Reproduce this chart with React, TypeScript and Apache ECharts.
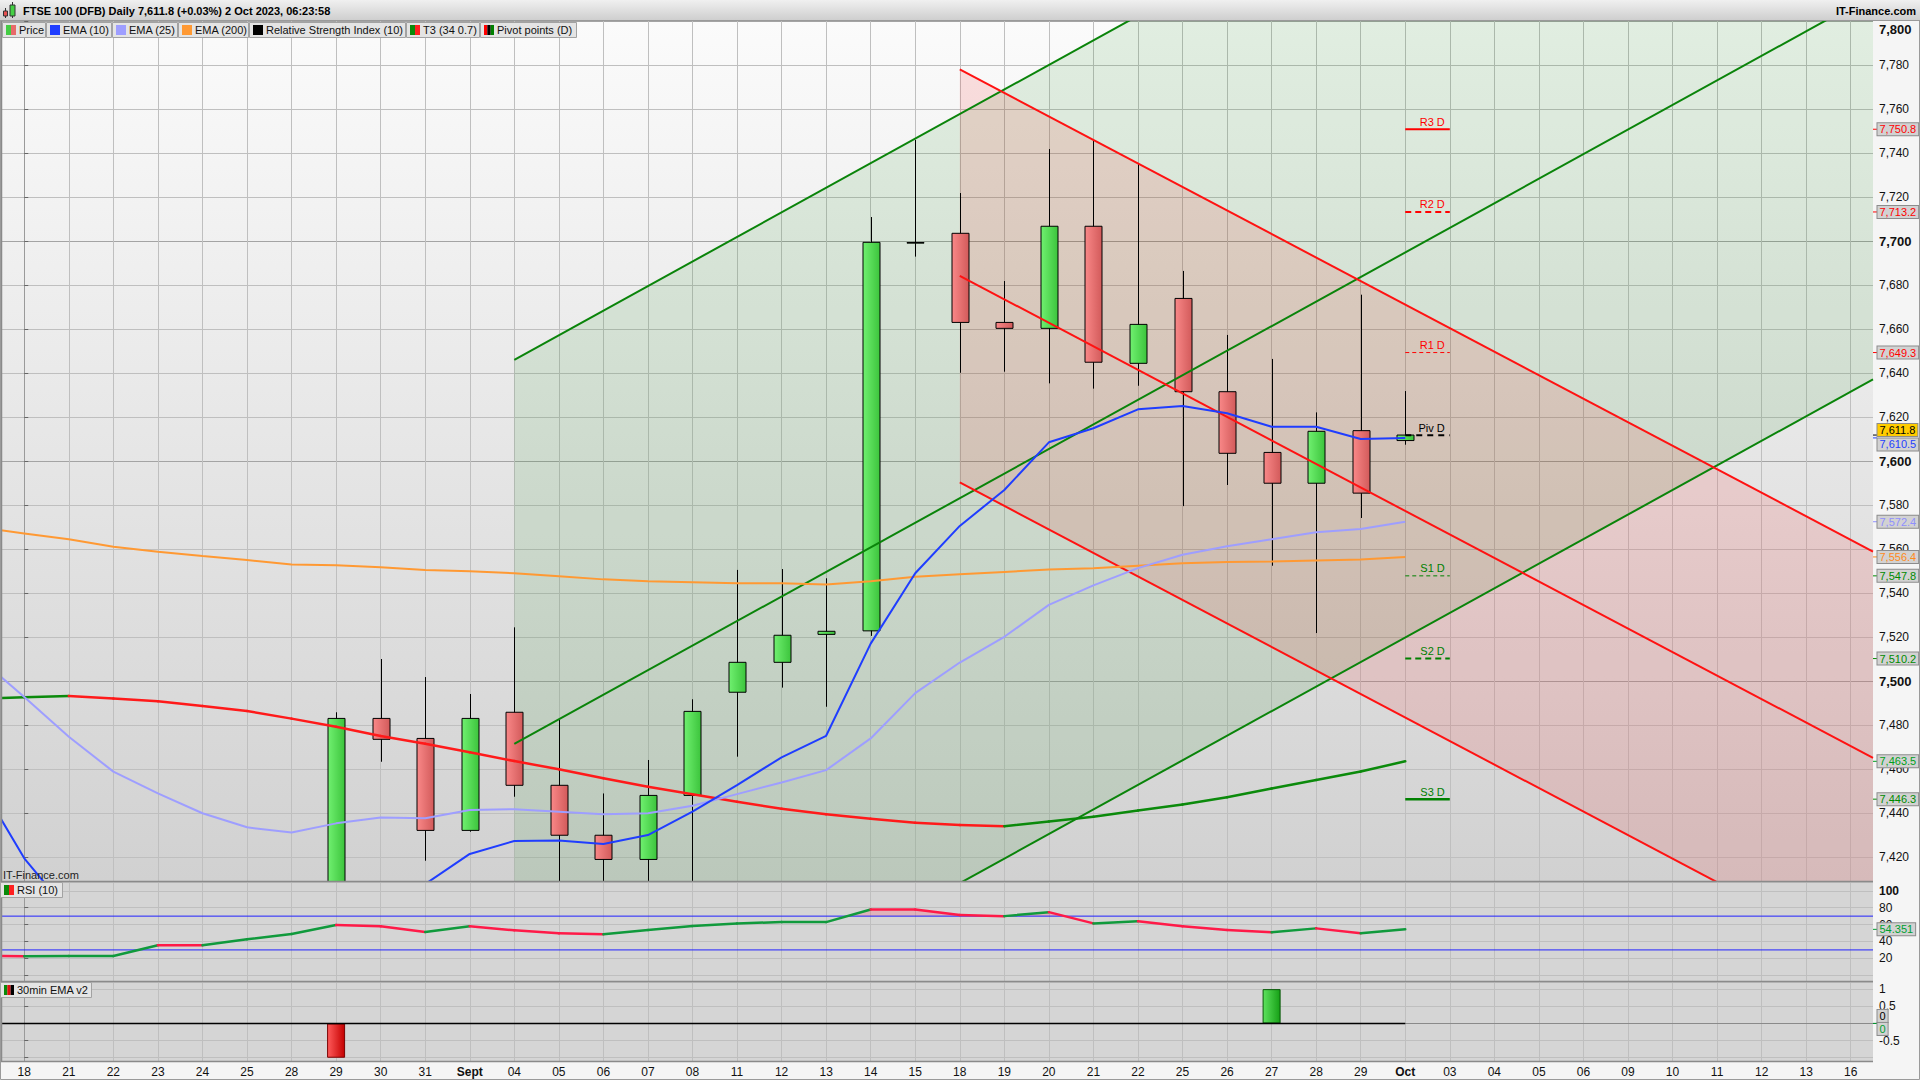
import React, { useEffect, useRef } from 'react';
import * as echarts from 'echarts';

const FONT = '"Liberation Sans", Arial, Helvetica, sans-serif';

// ---------------- data ----------------
const categories = [
  '2023-08-18', '2023-08-21', '2023-08-22', '2023-08-23', '2023-08-24', '2023-08-25', '2023-08-28', '2023-08-29', '2023-08-30', '2023-08-31',
  '2023-09-01', '2023-09-04', '2023-09-05', '2023-09-06', '2023-09-07', '2023-09-08', '2023-09-11', '2023-09-12', '2023-09-13', '2023-09-14', '2023-09-15',
  '2023-09-18', '2023-09-19', '2023-09-20', '2023-09-21', '2023-09-22', '2023-09-25', '2023-09-26', '2023-09-27', '2023-09-28', '2023-09-29',
  '2023-10-02', '2023-10-03', '2023-10-04', '2023-10-05', '2023-10-06', '2023-10-09', '2023-10-10', '2023-10-11', '2023-10-12', '2023-10-13', '2023-10-16',
];
const tickLabels = [
  '18', '21', '22', '23', '24', '25', '28', '29', '30', '31',
  'Sept', '04', '05', '06', '07', '08', '11', '12', '13', '14', '15',
  '18', '19', '20', '21', '22', '25', '26', '27', '28', '29',
  'Oct', '03', '04', '05', '06', '09', '10', '11', '12', '13', '16',
];
const boldTickLabels = ['Sept', 'Oct'];

// daily candles from 29 Aug (category index 7): [open, high, low, close]
const candleStart = 7;
const candles = [
  [7338.0, 7485.8, 7330.0, 7483.0],
  [7483.0, 7510.0, 7463.3, 7473.5],
  [7473.9, 7501.8, 7418.3, 7432.1],
  [7432.1, 7494.1, 7431.5, 7483.0],
  [7485.8, 7524.4, 7447.4, 7452.6],
  [7452.6, 7482.3, 7405.0, 7429.9],
  [7429.9, 7448.9, 7404.0, 7418.9],
  [7418.9, 7464.1, 7402.0, 7448.0],
  [7448.0, 7491.7, 7400.0, 7486.2],
  [7494.9, 7550.5, 7465.6, 7508.5],
  [7508.5, 7550.9, 7497.0, 7520.8],
  [7521.2, 7546.7, 7488.3, 7522.6],
  [7522.8, 7710.9, 7520.5, 7699.4],
  [7699.3, 7745.9, 7692.9, 7699.3],
  [7703.5, 7721.8, 7640.1, 7663.0],
  [7663.0, 7681.8, 7640.6, 7660.3],
  [7660.3, 7741.8, 7635.3, 7706.7],
  [7706.7, 7745.9, 7632.9, 7644.9],
  [7644.4, 7735.3, 7634.2, 7662.1],
  [7673.9, 7686.4, 7579.5, 7631.5],
  [7631.5, 7657.3, 7589.1, 7603.5],
  [7603.9, 7646.4, 7552.4, 7589.9],
  [7589.9, 7622.1, 7521.8, 7613.5],
  [7613.8, 7675.6, 7574.1, 7585.4],
  [7609.3, 7631.8, 7607.4, 7611.8],
];

// indicator values start one session before the first category (index -1)
const indicatorStart = -1;
const ema10 = [7453.6, 7419.4, 7395.0, 7388.0, 7385.0, 7384.0, 7383.0, 7382.0, 7392.0, 7400.0, 7407.7, 7421.4, 7427.3, 7427.5, 7425.9, 7430.0, 7440.6, 7452.7, 7465.3, 7475.1, 7517.0, 7549.0, 7570.5, 7586.8, 7608.5, 7614.9, 7623.5, 7625.0, 7621.7, 7615.6, 7615.6, 7610.0, 7610.5];
const ema25 = [7510.3, 7492.7, 7474.7, 7458.8, 7448.9, 7439.9, 7433.5, 7431.1, 7435.3, 7438.0, 7437.6, 7441.4, 7441.7, 7440.6, 7439.4, 7439.9, 7443.3, 7448.6, 7453.9, 7459.5, 7473.9, 7494.5, 7508.4, 7520.1, 7534.6, 7543.5, 7551.3, 7557.4, 7561.3, 7564.4, 7567.6, 7569.1, 7572.4];
const ema200 = [7569.8, 7567.1, 7564.4, 7561.0, 7558.8, 7556.8, 7555.0, 7553.0, 7552.6, 7551.7, 7550.5, 7549.9, 7549.0, 7547.6, 7546.2, 7545.3, 7544.9, 7544.4, 7544.4, 7543.9, 7545.3, 7547.4, 7548.5, 7549.6, 7550.7, 7551.3, 7552.4, 7553.5, 7554.1, 7554.3, 7554.8, 7555.2, 7556.4];
const t3 = [7492.0, 7492.6, 7493.2, 7492.0, 7490.8, 7488.6, 7486.4, 7482.9, 7479.2, 7475.0, 7471.5, 7467.6, 7463.6, 7459.9, 7455.8, 7451.9, 7448.5, 7445.1, 7441.9, 7439.4, 7437.4, 7435.6, 7434.5, 7434.0, 7436.1, 7438.3, 7441.1, 7443.9, 7447.2, 7451.1, 7455.0, 7458.9, 7463.5];
const rsi10 = [22.9, 22.6, 22.65, 22.7, 35.5, 35.4, 42.6, 48.8, 59.4, 57.9, 51.2, 57.9, 53.2, 49.6, 48.5, 53.5, 58.2, 61.4, 62.9, 62.95, 77.9, 77.8, 71.2, 70.0, 74.7, 61.4, 63.8, 57.9, 53.5, 50.8, 55.5, 49.6, 54.351];
const rsiLevels = [70, 30];

// 30min EMA v2 signal, one value per category up to 2 Oct
const emaSignal = [0, 0, 0, 0, 0, 0, 0, -1, 0, 0, 0, 0, 0, 0, 0, 0, 0, 0, 0, 0, 0, 0, 0, 0, 0, 0, 0, 0, 1, 0, 0, 0];

// daily pivot points for 2 Oct
const pivotIndex = 31;
const pivotNames = ['R3 D', 'R2 D', 'R1 D', 'Piv D', 'S1 D', 'S2 D', 'S3 D'];
const pivotLevels = [7750.8, 7713.2, 7649.3, 7611.7, 7547.8, 7510.2, 7446.3];

// trend channels: start index, level of each line at the start, slope per session
const greenChannelStart = 11;
const greenChannelLevels = [7646.0, 7471.4, 7296.4];
const greenChannelSlope = 11.17;
const redChannelStart = 21;
const redChannelLevels = [7778.0, 7684.2, 7590.3];
const redChannelSlope = -10.69;

// axes
const priceAxisRange = [7409.1, 7800];
const priceStep = 20;
const rsiAxisRange = [-6.8, 110.4];
const rsiTickLabels = [100, 80, 60, 40, 20];
const sigAxisRange = [-1.095, 1.208];
const sigTickLabels = [1, 0.5, -0.5];

// ---------------- styles / layout ----------------
const PL = 2;
const PW = 1871;
const MAIN_T = 21;
const MAIN_H = 860;
const RSI_T = 882;
const RSI_H = 99;
const SIG_T = 982;
const SIG_H = 79;
const N = categories.length;
const X_MIN = -0.5;
const X_MAX = N - 0.5;
const BAND = PW / N;

const C_EMA10 = '#1f3dff';
const C_EMA25 = '#9e9eff';
const C_EMA200 = '#ff9933';
const C_UP = '#0b8a0b';
const C_DN = '#ff1a1a';
const C_RSI_UP = '#109a3c';
const C_RSI_DN = '#ff1a48';
const TAG_BG = '#d2d2d2';
const GRID_LIGHT = '#bfbfbf';
const GRID_DARK = '#a4a4a4';

const lin = (a: string, b: string, horizontal = true) =>
  new echarts.graphic.LinearGradient(0, 0, horizontal ? 1 : 0, horizontal ? 0 : 1, [
    { offset: 0, color: a },
    { offset: 1, color: b },
  ]);

const fmt1 = (v: number) => v.toLocaleString('en-US', { minimumFractionDigits: 1, maximumFractionDigits: 1 });
const last = (a: number[]) => a[a.length - 1];
const lastClose = last(candles)[3];

const mainTagValues = [pivotLevels[0], pivotLevels[1], pivotLevels[2], lastClose, last(ema10), last(ema25), last(ema200), pivotLevels[4], pivotLevels[5], last(t3), pivotLevels[6]];
const mainTagColors = ['#ff0000', '#ff0000', '#ff0000', '#000000', '#2340ff', '#8f8fff', '#ff8a1a', '#008a00', '#008a00', '#00a020', '#008a00'];
const mainTagBgs = [TAG_BG, TAG_BG, TAG_BG, '#ffcc00', TAG_BG, TAG_BG, TAG_BG, TAG_BG, TAG_BG, TAG_BG, TAG_BG];
const mainTagNudge = [0, 0, 0, -5, 6.5, 0, 0, 0, 0, 0, 0];

const pivotColors = ['#ff0000', '#ff0000', '#ff0000', '#000000', '#008000', '#008000', '#008000'];
const pivotWidths = [2, 2, 1, 2, 1, 2, 2.5];
const pivotDash: (number[] | null)[] = [null, [6, 4], [4, 3], [6, 5], [4, 3], [6, 4], null];

function segments(vals: number[], start: number) {
  const out: number[][] = [];
  for (let k = 1; k < vals.length; k++) out.push([start + k - 1, vals[k - 1], start + k, vals[k]]);
  return out;
}

function lineSeries(vals: number[], color: string, width: number, xi: number, yi: number, z = 3) {
  return {
    type: 'line',
    xAxisIndex: xi,
    yAxisIndex: yi,
    z,
    silent: true,
    symbol: 'none',
    showSymbol: false,
    clip: true,
    data: vals.map((v, k) => [indicatorStart + k, v]),
    lineStyle: { color, width },
  };
}

function channelLine(start: number, level: number, slope: number, color: string) {
  return {
    type: 'line',
    xAxisIndex: 0,
    yAxisIndex: 0,
    z: 3,
    silent: true,
    symbol: 'none',
    clip: true,
    data: [
      [start, level],
      [X_MAX, level + slope * (X_MAX - start)],
    ],
    lineStyle: { color, width: 2 },
  };
}

function segmentSeries(vals: number[], xi: number, yi: number, up: string, dn: string, width: number) {
  return {
    type: 'custom',
    xAxisIndex: xi,
    yAxisIndex: yi,
    z: 3,
    silent: true,
    clip: true,
    data: segments(vals, indicatorStart),
    renderItem: (_p: any, api: any) => {
      const a = api.coord([api.value(0), api.value(1)]);
      const b = api.coord([api.value(2), api.value(3)]);
      const rising = api.value(3) >= api.value(1);
      return {
        type: 'line',
        shape: { x1: a[0], y1: a[1], x2: b[0], y2: b[1] },
        style: { stroke: rising ? up : dn, lineWidth: width, lineCap: 'round' },
      };
    },
  };
}

function tagSeries(values: number[], texts: string[], colors: string[], bgs: string[], nudges: number[], xi: number, yi: number) {
  return {
    type: 'custom',
    xAxisIndex: xi,
    yAxisIndex: yi,
    z: 20,
    silent: true,
    clip: false,
    data: values.map((v) => [v]),
    renderItem: (p: any, api: any) => {
      const k = p.dataIndex;
      const pt = api.coord([X_MAX, api.value(0)]);
      return {
        type: 'group',
        children: [
          { type: 'line', shape: { x1: pt[0], y1: pt[1], x2: pt[0] + 4, y2: pt[1] }, style: { stroke: colors[k], lineWidth: 1 } },
          {
            type: 'text',
            x: pt[0] + 4.5,
            y: pt[1] + nudges[k],
            style: {
              text: texts[k],
              fill: colors[k],
              fontSize: 11,
              fontFamily: FONT,
              align: 'left',
              verticalAlign: 'middle',
              backgroundColor: bgs[k],
              borderColor: '#8c8c8c',
              borderWidth: 1,
              padding: [1, 2, 0, 2],
            },
          },
        ],
      };
    },
  };
}

function buildOption() {
  const greenBody = lin('#70f070', '#3cc43c');
  const redBody = lin('#f98888', '#d25a5a');

  const series: any[] = [];

  // channel shading
  series.push({
    type: 'custom',
    xAxisIndex: 0,
    yAxisIndex: 0,
    z: 1,
    silent: true,
    clip: true,
    data: [
      [greenChannelStart, X_MAX, greenChannelLevels[0], greenChannelLevels[2], greenChannelSlope],
      [redChannelStart, X_MAX, redChannelLevels[0], redChannelLevels[2], redChannelSlope],
    ],
    renderItem: (p: any, api: any) => {
      const s = api.value(0);
      const e = api.value(1);
      const a = api.value(2);
      const b = api.value(3);
      const k = api.value(4);
      const pts = [
        [s, a],
        [e, a + k * (e - s)],
        [e, b + k * (e - s)],
        [s, b],
      ].map((q) => api.coord(q));
      return {
        type: 'polygon',
        shape: { points: pts },
        style: { fill: p.dataIndex === 0 ? 'rgba(0,128,0,0.10)' : 'rgba(255,0,0,0.11)' },
      };
    },
  });

  // candles
  series.push({
    type: 'custom',
    name: 'Price',
    xAxisIndex: 0,
    yAxisIndex: 0,
    z: 2,
    silent: true,
    clip: true,
    data: candles.map((c, k) => [candleStart + k, c[0], c[1], c[2], c[3]]),
    renderItem: (_p: any, api: any) => {
      const i = api.value(0);
      const o = api.value(1);
      const h = api.value(2);
      const l = api.value(3);
      const c = api.value(4);
      const pO = api.coord([i, o]);
      const pC = api.coord([i, c]);
      const pH = api.coord([i, h]);
      const pL = api.coord([i, l]);
      const x = Math.round(pO[0]) + 0.5;
      const w = 17;
      const top = Math.min(pO[1], pC[1]);
      const bh = Math.max(Math.abs(pO[1] - pC[1]), 0.6);
      return {
        type: 'group',
        children: [
          { type: 'line', shape: { x1: x, y1: pH[1], x2: x, y2: pL[1] }, style: { stroke: '#000', lineWidth: 1 } },
          {
            type: 'rect',
            shape: { x: x - w / 2, y: top, width: w, height: bh },
            style: { fill: c >= o ? greenBody : redBody, stroke: '#000', lineWidth: 1 },
          },
        ],
      };
    },
  });

  greenChannelLevels.forEach((lv) => series.push(channelLine(greenChannelStart, lv, greenChannelSlope, '#0a840a')));
  redChannelLevels.forEach((lv) => series.push(channelLine(redChannelStart, lv, redChannelSlope, '#ff1212')));

  series.push(lineSeries(ema200, C_EMA200, 2, 0, 0));
  series.push(lineSeries(ema25, C_EMA25, 2, 0, 0));
  series.push(lineSeries(ema10, C_EMA10, 2, 0, 0));
  series.push(segmentSeries(t3, 0, 0, C_UP, C_DN, 2.5));

  // pivots
  series.push({
    type: 'custom',
    xAxisIndex: 0,
    yAxisIndex: 0,
    z: 4,
    silent: true,
    clip: true,
    data: pivotLevels.map((v) => [v]),
    renderItem: (p: any, api: any) => {
      const k = p.dataIndex;
      const a = api.coord([pivotIndex, api.value(0)]);
      const b = api.coord([pivotIndex + 1, api.value(0)]);
      return {
        type: 'group',
        children: [
          {
            type: 'line',
            shape: { x1: a[0], y1: a[1], x2: b[0], y2: b[1] },
            style: { stroke: pivotColors[k], lineWidth: pivotWidths[k], lineDash: pivotDash[k] || undefined },
          },
          {
            type: 'text',
            x: b[0] - 5,
            y: a[1] - 2,
            style: {
              text: pivotNames[k],
              fill: pivotColors[k],
              fontSize: 11,
              fontFamily: FONT,
              align: 'right',
              verticalAlign: 'bottom',
            },
          },
        ],
      };
    },
  });

  series.push(
    tagSeries(
      mainTagValues,
      mainTagValues.map(fmt1),
      mainTagColors,
      mainTagBgs,
      mainTagNudge,
      0,
      0,
    ),
  );

  // RSI panel
  rsiLevels.forEach((lv) =>
    series.push({
      type: 'line',
      xAxisIndex: 1,
      yAxisIndex: 1,
      z: 2,
      silent: true,
      symbol: 'none',
      data: [
        [X_MIN, lv],
        [X_MAX, lv],
      ],
      lineStyle: { color: '#2222ff', width: 1 },
    }),
  );
  series.push({
    type: 'custom',
    xAxisIndex: 1,
    yAxisIndex: 1,
    z: 2,
    silent: true,
    clip: true,
    data: segments(rsi10, indicatorStart),
    renderItem: (_p: any, api: any) => {
      const L = rsiLevels[0];
      const x0 = api.value(0);
      const v0 = api.value(1);
      const x1 = api.value(2);
      const v1 = api.value(3);
      if (v0 <= L && v1 <= L) return { type: 'group', children: [] };
      let ax = x0;
      let av = v0;
      let bx = x1;
      let bv = v1;
      if (v0 < L) {
        ax = x0 + ((L - v0) / (v1 - v0)) * (x1 - x0);
        av = L;
      }
      if (v1 < L) {
        bx = x0 + ((L - v0) / (v1 - v0)) * (x1 - x0);
        bv = L;
      }
      const pts = [
        [ax, av],
        [bx, bv],
        [bx, L],
        [ax, L],
      ].map((q) => api.coord(q));
      return { type: 'polygon', shape: { points: pts }, style: { fill: 'rgba(255,60,90,0.22)' } };
    },
  });
  series.push(segmentSeries(rsi10, 1, 1, C_RSI_UP, C_RSI_DN, 2.5));
  series.push(tagSeries([last(rsi10)], [String(last(rsi10))], ['#00a030'], [TAG_BG], [0], 1, 1));

  // 30min EMA v2 panel
  series.push({
    type: 'bar',
    xAxisIndex: 2,
    yAxisIndex: 2,
    z: 2,
    silent: true,
    barWidth: 18,
    data: emaSignal.map((v) =>
      v === 0
        ? '-'
        : {
            value: v,
            itemStyle: {
              color: v < 0 ? lin('#ff5a5a', '#c40000') : lin('#5ee25e', '#16a016'),
              borderColor: v < 0 ? '#7a0000' : '#085808',
              borderWidth: 1,
            },
          },
    ),
  });
  series.push({
    type: 'line',
    xAxisIndex: 3,
    yAxisIndex: 2,
    z: 3,
    silent: true,
    symbol: 'none',
    data: [[indicatorStart, 0], ...emaSignal.map((_v, i) => [i, 0])],
    lineStyle: { color: '#000', width: 1.5 },
  });
  series.push(tagSeries([0, 0], ['0', '0'], ['#000000', '#00a030'], [TAG_BG, TAG_BG], [-7.5, 5.5], 3, 2));

  const hiddenX = (gridIndex: number) => ({ type: 'value', gridIndex, min: X_MIN, max: X_MAX, show: false });

  const rightAxisCommon = {
    type: 'value',
    position: 'right',
    axisLine: { show: true, lineStyle: { color: '#9a9a9a', width: 1 } },
    axisTick: { show: true, length: 4, lineStyle: { color: '#666' } },
  };

  const priceFmt = (v: number) => {
    const r = Math.round(v / priceStep) * priceStep;
    if (Math.abs(r - v) > 1e-6) return '';
    const s = r.toLocaleString('en-US');
    if (r === priceAxisRange[1]) return `{top|${s}}`;
    return r % 100 === 0 ? `{b|${s}}` : `{n|${s}}`;
  };
  const rsiFmt = (v: number) => {
    const t = rsiTickLabels.find((x) => Math.abs(x - v) < 1e-6);
    if (t === undefined) return '';
    return t === 100 ? `{b2|${t}}` : `{n|${t}}`;
  };
  const sigFmt = (v: number) => {
    const t = sigTickLabels.find((x) => Math.abs(x - v) < 1e-6);
    return t === undefined ? '' : `{n|${t}}`;
  };
  const richLabels = {
    n: { fontSize: 12, color: '#111', fontFamily: FONT },
    b: { fontSize: 13, fontWeight: 'bold', color: '#111', fontFamily: FONT },
    b2: { fontSize: 12, fontWeight: 'bold', color: '#111', fontFamily: FONT },
    top: { fontSize: 13, fontWeight: 'bold', color: '#111', fontFamily: FONT, padding: [16, 0, 0, 0] },
  };

  // ---------------- graphics (chrome) ----------------
  const g: any[] = [];
  g.push({ type: 'rect', z: -10, shape: { x: PL, y: MAIN_T, width: PW, height: MAIN_H }, style: { fill: lin('#fbfbfb', '#d1d1d1', false) } });
  g.push({ type: 'rect', z: -10, shape: { x: PL, y: RSI_T, width: PW, height: RSI_H }, style: { fill: '#d5d5d5' } });
  g.push({ type: 'rect', z: -10, shape: { x: PL, y: SIG_T, width: PW, height: SIG_H }, style: { fill: '#d5d5d5' } });
  // panel dividers
  [881.5, 981.5, 1061.5].forEach((yy) =>
    g.push({ type: 'line', z: 50, shape: { x1: 0, y1: yy, x2: PL + PW, y2: yy }, style: { stroke: '#8a8a8a', lineWidth: 1.5 } }),
  );
  g.push({ type: 'line', z: 50, shape: { x1: 1.5, y1: MAIN_T, x2: 1.5, y2: 1061 }, style: { stroke: '#8a8a8a', lineWidth: 1.5 } });
  g.push({ type: 'rect', z: 50, shape: { x: 0.5, y: 0.5, width: 1919, height: 1079 }, style: { fill: 'none', stroke: '#9a9a9a', lineWidth: 1 } });

  // title bar
  g.push({ type: 'rect', z: 100, shape: { x: 0, y: 0, width: 1920, height: 21 }, style: { fill: lin('#f0f0f0', '#cdcdcd', false) } });
  g.push({ type: 'line', z: 100, shape: { x1: 0, y1: 20.5, x2: 1920, y2: 20.5 }, style: { stroke: '#9a9a9a', lineWidth: 1 } });
  // title icon: two mini candles
  g.push({ type: 'line', z: 101, shape: { x1: 5.5, y1: 8, x2: 5.5, y2: 18 }, style: { stroke: '#333', lineWidth: 1 } });
  g.push({ type: 'rect', z: 102, shape: { x: 3.5, y: 11, width: 4, height: 5 }, style: { fill: '#e85050', stroke: '#333', lineWidth: 1 } });
  g.push({ type: 'line', z: 101, shape: { x1: 12.5, y1: 2, x2: 12.5, y2: 18 }, style: { stroke: '#333', lineWidth: 1 } });
  g.push({ type: 'rect', z: 102, shape: { x: 10, y: 5, width: 5, height: 11 }, style: { fill: '#44d044', stroke: '#333', lineWidth: 1 } });
  g.push({
    type: 'text',
    z: 101,
    x: 23,
    y: 11,
    style: { text: 'FTSE 100 (DFB) Daily 7,611.8 (+0.03%) 2 Oct 2023, 06:23:58', fill: '#000', fontSize: 11, fontWeight: 'bold', fontFamily: FONT, verticalAlign: 'middle' },
  });
  g.push({
    type: 'text',
    z: 101,
    x: 1916,
    y: 11,
    style: { text: 'IT-Finance.com', fill: '#000', fontSize: 11, fontWeight: 'bold', fontFamily: FONT, align: 'right', verticalAlign: 'middle' },
  });

  // legend row
  const legendItems: { label: string; x: number; w: number; icon: string[] }[] = [
    { label: 'Price', x: 2, w: 43, icon: ['#44cc44', '#e86a6a'] },
    { label: 'EMA (10)', x: 46, w: 65, icon: [C_EMA10] },
    { label: 'EMA (25)', x: 112, w: 65, icon: [C_EMA25] },
    { label: 'EMA (200)', x: 178, w: 70, icon: [C_EMA200] },
    { label: 'Relative Strength Index (10)', x: 249, w: 156, icon: ['#000000'] },
    { label: 'T3 (34 0.7)', x: 406, w: 73, icon: ['#0a8a0a', '#ff2020'] },
    { label: 'Pivot points (D)', x: 480, w: 96, icon: ['#ff0000', '#000000', '#008000'] },
  ];
  const boxItem = (label: string, x: number, y: number, w: number, icon: string[]) => {
    g.push({ type: 'rect', z: 100, shape: { x: x + 0.5, y: y + 0.5, width: w, height: 15 }, style: { fill: '#e4e4e4', stroke: '#a2a2a2', lineWidth: 1 } });
    const iw = 10 / icon.length;
    icon.forEach((c, k) =>
      g.push({ type: 'rect', z: 101, shape: { x: x + 4 + k * iw, y: y + 3, width: iw, height: 10 }, style: { fill: c } }),
    );
    g.push({
      type: 'text',
      z: 101,
      x: x + 17,
      y: y + 8,
      style: { text: label, fill: '#111', fontSize: 11, fontFamily: FONT, verticalAlign: 'middle' },
    });
  };
  legendItems.forEach((it) => boxItem(it.label, it.x, 22, it.w, it.icon));
  boxItem('RSI (10)', 0, 882, 62, ['#0a8a0a', '#ff2020']);
  boxItem('30min EMA v2', 0, 982, 91, ['#0a8a0a', '#e01010', '#000000']);

  g.push({
    type: 'text',
    z: 100,
    x: 3,
    y: 875,
    style: { text: 'IT-Finance.com', fill: '#222', fontSize: 11, fontFamily: FONT, verticalAlign: 'middle' },
  });

  return {
    animation: false,
    backgroundColor: '#f5f5f5',
    textStyle: { fontFamily: FONT },
    grid: [
      { left: PL, top: MAIN_T, width: PW, height: MAIN_H, outerBoundsMode: 'none', containLabel: false },
      { left: PL, top: RSI_T, width: PW, height: RSI_H, outerBoundsMode: 'none', containLabel: false },
      { left: PL, top: SIG_T, width: PW, height: SIG_H, outerBoundsMode: 'none', containLabel: false },
      { left: PL + BAND / 2, top: MAIN_T, width: BAND * (N - 1), height: 1061 - MAIN_T, outerBoundsMode: 'none', containLabel: false },
    ],
    xAxis: [
      hiddenX(0),
      hiddenX(1),
      {
        type: 'category',
        gridIndex: 2,
        data: categories,
        boundaryGap: true,
        axisLine: { show: true, lineStyle: { color: '#8a8a8a' } },
        axisTick: { show: false },
        splitLine: { show: false },
        axisLabel: {
          interval: 0,
          margin: 5,
          fontSize: 12,
          color: '#111',
          fontFamily: FONT,
          formatter: (_v: string, i: number) => (boldTickLabels.includes(tickLabels[i]) ? `{b|${tickLabels[i]}}` : tickLabels[i]),
          rich: { b: { fontSize: 12, fontWeight: 'bold', color: '#111', fontFamily: FONT } },
        },
      },
      hiddenX(2),
      {
        type: 'value',
        gridIndex: 3,
        min: 0,
        max: N - 1,
        interval: 1,
        axisLine: { show: false },
        axisTick: { show: false },
        axisLabel: { show: false },
        splitLine: { show: true, lineStyle: { color: GRID_LIGHT, width: 1 } },
      },
    ],
    yAxis: [
      {
        ...rightAxisCommon,
        gridIndex: 0,
        min: priceAxisRange[0],
        max: priceAxisRange[1],
        splitNumber: 20,
        minInterval: priceStep,
        maxInterval: priceStep,
        splitLine: { show: true, lineStyle: { color: [GRID_DARK, GRID_LIGHT, GRID_LIGHT, GRID_LIGHT, GRID_LIGHT], width: 1 } },
        axisLabel: { margin: 6, formatter: priceFmt, rich: richLabels, fontFamily: FONT },
      },
      {
        ...rightAxisCommon,
        gridIndex: 1,
        min: rsiAxisRange[0],
        max: rsiAxisRange[1],
        splitNumber: 6,
        minInterval: 20,
        maxInterval: 20,
        splitLine: { show: true, lineStyle: { color: GRID_LIGHT, width: 1 } },
        axisLabel: { margin: 6, formatter: rsiFmt, rich: richLabels, fontFamily: FONT },
      },
      {
        ...rightAxisCommon,
        gridIndex: 2,
        min: sigAxisRange[0],
        max: sigAxisRange[1],
        splitNumber: 5,
        minInterval: 0.5,
        maxInterval: 0.5,
        splitLine: { show: true, lineStyle: { color: GRID_LIGHT, width: 1 } },
        axisLabel: { margin: 6, formatter: sigFmt, rich: richLabels, fontFamily: FONT },
      },
      { type: 'value', gridIndex: 3, min: 0, max: 1, show: false },
    ],
    graphic: { elements: g },
    series,
  };
}

export default function App() {
  const ref = useRef<HTMLDivElement>(null);
  useEffect(() => {
    const el = ref.current;
    if (!el) return;
    document.body.style.margin = '0';
    const chart = echarts.init(el, null, { renderer: 'svg' });
    chart.setOption(buildOption() as any);
    return () => chart.dispose();
  }, []);
  return <div ref={ref} style={{ position: 'fixed', left: 0, top: 0, width: 1920, height: 1080 }} />;
}
